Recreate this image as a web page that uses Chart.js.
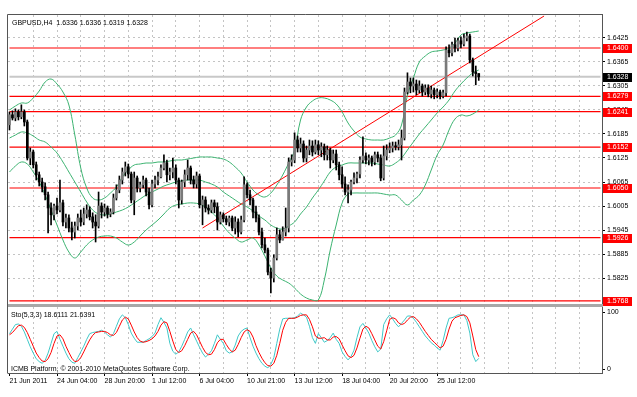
<!DOCTYPE html>
<html><head><meta charset="utf-8">
<script src="https://cdn.jsdelivr.net/npm/chart.js@4.4.0/dist/chart.umd.min.js"></script>
<style>
html,body{margin:0;padding:0;background:#fff;width:637px;height:397px;overflow:hidden;}
#wrap{position:relative;width:637px;height:397px;background:#fff;}
canvas{position:absolute;left:0;}
#c1{top:0;}
#c2{top:307px;}
.t{position:absolute;font-family:"Liberation Sans",Arial,sans-serif;font-size:7px;color:#000;white-space:pre;line-height:9px;}
</style></head><body>
<div id="wrap">
<canvas id="c1" width="637" height="307"></canvas>
<canvas id="c2" width="637" height="90"></canvas>
<div class="t" style="left:12px;top:18px;">GBPUSD,H4  1.6336 1.6336 1.6319 1.6328</div>
<div class="t" style="left:11px;top:310px;">Sto(5,3,3) 18.6111 21.6391</div>
<div class="t" style="left:11px;top:364px;">ICMB Platform, © 2001-2010 MetaQuotes Software Corp.</div>
</div>
<script>
// ---------- DATA ----------
const barCount = 200;
const dateTickBars = [0,16,32,48,64,80,96,112,128,144];
const dateTickLabels = ['21 Jun 2011','24 Jun 04:00','28 Jun 20:00','1 Jul 12:00','6 Jul 04:00','10 Jul 21:00','13 Jul 12:00','18 Jul 04:00','20 Jul 20:00','25 Jul 12:00'];
const priceTicks = [1.5825,1.5885,1.5945,1.6005,1.6065,1.6125,1.6185,1.6245,1.6305,1.6365,1.6425];
const stochTicks = [0,100];
const levels = [1.6400,1.6279,1.6241,1.6152,1.6050,1.5926,1.5768];
const currentPrice = 1.6328;
const trendBars = [65,180];
const trendValues = [1.5950,1.6480];

const opens = [
1.6208,1.6233,1.6225,1.6240,1.6228,1.6240,1.6215,1.6125,1.6140,1.6108,
1.6083,1.6065,1.6053,1.6033,1.6000,1.5983,1.6005,1.5995,1.6013,1.5965,
1.5975,1.5950,1.5940,1.5955,1.5975,1.5965,1.5985,1.5995,1.5978,1.5965,
1.5955,1.6005,1.5990,1.6000,1.5985,1.5990,1.6025,1.6045,1.6070,1.6090,
1.6103,1.6085,1.6020,1.6075,1.6050,1.6058,1.6070,1.6040,1.6008,1.6060,
1.6070,1.6078,1.6100,1.6113,1.6083,1.6090,1.6100,1.6070,1.6020,1.6065,
1.6083,1.6100,1.6070,1.6060,1.6080,1.6008,1.6020,1.6000,1.5995,1.6013,
1.6003,1.5965,1.5983,1.5973,1.5965,1.5975,1.5950,1.5965,1.5940,1.5970,
1.6058,1.6033,1.6020,1.5990,1.5975,1.5940,1.5908,1.5895,1.5840,1.5825,
1.5875,1.5933,1.5920,1.5940,1.5950,1.6115,1.6120,1.6170,1.6150,1.6160,
1.6125,1.6145,1.6155,1.6140,1.6158,1.6145,1.6153,1.6133,1.6145,1.6120,
1.6135,1.6108,1.6083,1.6060,1.6040,1.6045,1.6065,1.6075,1.6085,1.6120,
1.6130,1.6120,1.6125,1.6115,1.6133,1.6125,1.6075,1.6130,1.6145,1.6150,
1.6155,1.6153,1.6158,1.6175,1.6290,1.6315,1.6305,1.6310,1.6295,1.6305,
1.6290,1.6300,1.6285,1.6295,1.6283,1.6290,1.6280,1.6288,1.6395,1.6388,
1.6408,1.6400,1.6418,1.6410,1.6425,1.6430,1.6370,1.6340,1.6336];
const highs = [
1.6240,1.6243,1.6248,1.6245,1.6258,1.6245,1.6220,1.6150,1.6145,1.6115,
1.6090,1.6075,1.6063,1.6040,1.6013,1.6010,1.6025,1.6070,1.6020,1.5985,
1.5983,1.5965,1.5965,1.5985,1.5995,1.6000,1.6008,1.6003,1.5988,1.5983,
1.6040,1.6013,1.6010,1.6005,1.5998,1.6035,1.6058,1.6080,1.6100,1.6115,
1.6110,1.6090,1.6090,1.6080,1.6065,1.6080,1.6075,1.6050,1.6070,1.6080,
1.6090,1.6108,1.6133,1.6120,1.6100,1.6125,1.6108,1.6075,1.6070,1.6095,
1.6120,1.6105,1.6080,1.6090,1.6085,1.6030,1.6028,1.6008,1.6020,1.6020,
1.6013,1.5990,1.5988,1.5980,1.5980,1.5980,1.5978,1.5973,1.5980,1.6078,
1.6063,1.6045,1.6025,1.6005,1.5983,1.5950,1.5925,1.5900,1.5850,1.5883,
1.5950,1.5945,1.5953,1.6000,1.6125,1.6133,1.6188,1.6180,1.6175,1.6168,
1.6155,1.6170,1.6168,1.6170,1.6168,1.6163,1.6160,1.6155,1.6150,1.6145,
1.6145,1.6115,1.6103,1.6078,1.6058,1.6070,1.6088,1.6090,1.6128,1.6178,
1.6138,1.6133,1.6130,1.6140,1.6140,1.6133,1.6155,1.6158,1.6163,1.6165,
1.6165,1.6170,1.6195,1.6300,1.6338,1.6325,1.6325,1.6320,1.6318,1.6310,
1.6308,1.6308,1.6305,1.6300,1.6298,1.6295,1.6295,1.6403,1.6408,1.6415,
1.6425,1.6425,1.6428,1.6435,1.6440,1.6435,1.6375,1.6355,1.6336];
const lows = [
1.6195,1.6220,1.6218,1.6220,1.6223,1.6205,1.6120,1.6108,1.6100,1.6070,
1.6055,1.6040,1.6020,1.5938,1.5958,1.5970,1.5985,1.5990,1.5955,1.5950,
1.5940,1.5920,1.5925,1.5945,1.5955,1.5958,1.5975,1.5970,1.5950,1.5915,
1.5950,1.5975,1.5980,1.5975,1.5978,1.5985,1.6020,1.6038,1.6060,1.6080,
1.6075,1.6013,1.5983,1.6040,1.6040,1.6050,1.6030,1.5998,1.6003,1.6050,
1.6058,1.6075,1.6095,1.6065,1.6070,1.6075,1.6060,1.6000,1.6010,1.6053,
1.6070,1.6060,1.6050,1.6050,1.6000,1.5958,1.5990,1.5985,1.5988,1.5988,
1.5945,1.5960,1.5965,1.5958,1.5955,1.5943,1.5935,1.5928,1.5935,1.5965,
1.6025,1.6008,1.5975,1.5965,1.5933,1.5900,1.5888,1.5833,1.5788,1.5815,
1.5870,1.5913,1.5920,1.5930,1.5940,1.6105,1.6113,1.6140,1.6140,1.6115,
1.6115,1.6133,1.6130,1.6135,1.6133,1.6128,1.6120,1.6120,1.6100,1.6113,
1.6095,1.6070,1.6050,1.6033,1.6013,1.6033,1.6060,1.6063,1.6075,1.6113,
1.6110,1.6108,1.6105,1.6108,1.6115,1.6068,1.6070,1.6120,1.6138,1.6140,
1.6145,1.6145,1.6120,1.6170,1.6285,1.6288,1.6290,1.6283,1.6288,1.6280,
1.6283,1.6278,1.6275,1.6273,1.6275,1.6273,1.6275,1.6280,1.6378,1.6380,
1.6390,1.6393,1.6400,1.6405,1.6418,1.6363,1.6330,1.6308,1.6319];
const closes = [
1.6233,1.6225,1.6240,1.6228,1.6240,1.6215,1.6125,1.6140,1.6108,1.6083,
1.6065,1.6053,1.6033,1.6000,1.5983,1.6005,1.5995,1.6013,1.5965,1.5975,
1.5950,1.5940,1.5955,1.5975,1.5965,1.5985,1.5995,1.5978,1.5965,1.5955,
1.6005,1.5990,1.6000,1.5985,1.5990,1.6025,1.6045,1.6070,1.6090,1.6103,
1.6085,1.6020,1.6075,1.6050,1.6058,1.6070,1.6040,1.6008,1.6060,1.6070,
1.6078,1.6100,1.6113,1.6083,1.6090,1.6100,1.6070,1.6020,1.6065,1.6083,
1.6100,1.6070,1.6060,1.6080,1.6008,1.6020,1.6000,1.5995,1.6013,1.6003,
1.5965,1.5983,1.5973,1.5965,1.5975,1.5950,1.5965,1.5940,1.5970,1.6058,
1.6033,1.6020,1.5990,1.5975,1.5940,1.5908,1.5895,1.5840,1.5825,1.5875,
1.5933,1.5920,1.5940,1.5950,1.6115,1.6120,1.6170,1.6150,1.6160,1.6125,
1.6145,1.6155,1.6140,1.6158,1.6145,1.6153,1.6133,1.6145,1.6120,1.6135,
1.6108,1.6083,1.6060,1.6040,1.6045,1.6065,1.6075,1.6085,1.6120,1.6130,
1.6120,1.6125,1.6115,1.6133,1.6125,1.6075,1.6130,1.6145,1.6150,1.6155,
1.6153,1.6158,1.6175,1.6290,1.6315,1.6305,1.6310,1.6295,1.6305,1.6290,
1.6300,1.6285,1.6295,1.6283,1.6290,1.6280,1.6288,1.6395,1.6388,1.6408,
1.6400,1.6418,1.6410,1.6425,1.6430,1.6370,1.6340,1.6336,1.6328];

// Bollinger band values read at every second bar (bars 0,2,4,...,158)
const bandStep = 2;
const upperBand = [
1.6245,1.6255,1.62625,1.62625,1.6275,1.62925,1.6315,1.63225,1.631,1.629,
1.62575,1.61825,1.61,1.605,1.6025,1.602,1.6025,1.60375,1.60525,1.60775,
1.6095,1.61075,1.611,1.61125,1.61125,1.6115,1.6115,1.61175,1.612,1.612,
1.61225,1.6125,1.61275,1.61275,1.61275,1.6125,1.61225,1.6115,1.61025,1.60875,
1.6065,1.6045,1.60325,1.60275,1.60375,1.60575,1.60825,1.61125,1.6145,1.622,
1.62525,1.62675,1.6275,1.6275,1.627,1.626,1.624,1.62125,1.61925,1.61775,
1.61725,1.617,1.617,1.617,1.6175,1.61825,1.62075,1.62825,1.6325,1.6365,
1.638,1.639,1.63925,1.6395,1.64,1.64125,1.64325,1.64375,1.644,1.64425];
const middleBand = [
1.6175,1.61825,1.619,1.61875,1.618,1.617,1.6165,1.61525,1.61375,1.6115,
1.609,1.6065,1.604,1.6015,1.5995,1.5985,1.59825,1.5985,1.599,1.5995,
1.60025,1.60125,1.60225,1.60325,1.604,1.60475,1.6055,1.606,1.6065,1.60675,
1.607,1.607,1.607,1.6065,1.606,1.60525,1.604,1.603,1.602,1.601,
1.60025,1.59925,1.598,1.597,1.59575,1.595,1.59475,1.5955,1.5965,1.5985,
1.60025,1.6025,1.6045,1.60675,1.609,1.61025,1.61075,1.61125,1.61125,1.61125,
1.61125,1.61125,1.611,1.61075,1.6105,1.61125,1.6125,1.6145,1.6165,1.6185,
1.62025,1.622,1.62375,1.62525,1.627,1.62925,1.631,1.6325,1.63375,1.6345];
const lowerBand = [
1.609,1.6105,1.6115,1.611,1.609,1.6065,1.60325,1.5995,1.59575,1.592,
1.589,1.5875,1.589,1.59075,1.592,1.59275,1.593,1.593,1.5925,1.5915,
1.59075,1.5915,1.593,1.5945,1.59575,1.597,1.5985,1.6,1.60075,1.601,
1.60125,1.60125,1.601,1.60025,1.599,1.5975,1.5955,1.59375,1.5925,1.5915,
1.592,1.5925,1.59075,1.588,1.585,1.583,1.582,1.58125,1.58,1.5785,
1.5775,1.577,1.577,1.582,1.5895,1.59575,1.60125,1.6035,1.60375,1.60375,
1.60375,1.60375,1.60375,1.6035,1.60325,1.60325,1.602,1.60075,1.602,1.60325,
1.60575,1.6095,1.61325,1.61575,1.6195,1.62225,1.62325,1.623,1.6235,1.6245];

const stochMain = [
62,70,78,79,75,65,52,39,28,18,
13,10,15,28,45,62,66,52,40,28,
18,12,10,20,30,40,52,62,64,65,
66,68,65,60,56,62,75,88,95,90,
78,63,54,47,47,47,50,53,57,63,
78,90,82,72,45,31,26,30,40,52,
65,72,60,49,38,28,21,26,32,45,
60,52,45,32,28,30,42,58,66,70,
72,55,40,28,18,10,5,2,8,20,
45,70,88,89,89,89,90,93,98,95,
91,75,55,45,62,55,47,50,55,63,
52,45,30,22,16,22,33,55,74,80,
72,63,50,39,30,35,78,88,95,88,
80,74,80,86,93,93,89,82,74,66,
58,52,46,42,37,33,50,72,89,90,
92,95,95,95,85,63,25,13,18.6111];
const stochSignal = [
60,64,70,76,77,73,64,52,40,28,
20,14,13,18,29,45,58,60,53,40,
29,19,13,14,20,30,41,51,59,64,
65,66,66,64,60,59,64,75,86,91,
88,77,65,55,49,47,48,50,53,58,
66,77,83,81,66,49,34,29,32,41,
52,63,66,60,49,38,29,25,26,34,
46,52,52,43,35,30,33,43,55,65,
69,66,56,41,29,19,11,6,5,10,
24,45,68,82,89,89,89,91,94,95,
95,87,74,58,54,54,55,51,51,56,
57,53,42,32,23,20,24,37,54,70,
75,72,62,51,40,35,48,67,87,90,
88,81,78,80,86,91,92,88,82,74,
66,59,52,47,42,37,40,52,70,84,
90,92,94,95,92,81,58,34,21.6391];

// ---------- BUILD ----------
const FONT = {family:'"Liberation Sans", Arial, sans-serif', size:7};
const labels = new Array(barCount).fill('');
dateTickBars.forEach((b,k)=>{ labels[b] = dateTickLabels[k]; });
function pad(arr){ const out = new Array(barCount).fill(null); arr.forEach((v,i)=>{ out[i]=v; }); return out; }
function padStep(arr, step){ const out = new Array(barCount).fill(null); arr.forEach((v,k)=>{ out[k*step]=v; }); return out; }
const wickData = pad(lows.map((l,i)=>[l, highs[i]]));
const bodyData = pad(opens.map((o,i)=>[o, closes[i]]));
const trendData = new Array(barCount).fill(null);
trendBars.forEach((b,k)=>{ trendData[b] = trendValues[k]; });
const gridColorX = ctx => (ctx.index % 8 === 0 && ctx.index > 0) ? '#c4c4c4' : 'rgba(0,0,0,0)';
const noPad = s => { s.paddingTop = 0; s.paddingBottom = 0; s.paddingLeft = 0; s.paddingRight = 0; };

const lineBase = {type:'line', pointRadius:0, borderWidth:1, fill:false};

const frameTop = {
  id:'frameTop',
  afterDraw(chart){
    const a = chart.chartArea, ctx = chart.ctx;
    ctx.save();
    ctx.fillStyle = '#a8a8a8';
    ctx.fillRect(a.left, a.bottom, a.right - a.left + 1, 3);
    ctx.strokeStyle = '#555'; ctx.lineWidth = 1;
    ctx.beginPath();
    ctx.moveTo(a.left - 0.5, a.bottom + 3); ctx.lineTo(a.left - 0.5, a.top - 0.5); ctx.lineTo(a.right + 1, a.top - 0.5);
    ctx.stroke();
    const y = chart.scales.y;
    ctx.font = '7px "Liberation Sans", Arial, sans-serif';
    ctx.textBaseline = 'middle'; ctx.textAlign = 'left';
    const tag = (v, bg) => {
      const py = Math.round(y.getPixelForValue(v));
      ctx.fillStyle = bg; ctx.fillRect(y.left + 1, py - 4, 29, 9);
      ctx.fillStyle = '#fff'; ctx.fillText(v.toFixed(4), y.left + 5, py + 0.5);
    };
    levels.forEach(v => tag(v, '#ff0000'));
    tag(currentPrice, '#000');
    ctx.restore();
  }
};
const frameBottom = {
  id:'frameBottom',
  afterDraw(chart){
    const a = chart.chartArea, ctx = chart.ctx;
    ctx.save();
    ctx.strokeStyle = '#555'; ctx.lineWidth = 1;
    ctx.beginPath();
    ctx.moveTo(a.left - 0.5, a.top); ctx.lineTo(a.left - 0.5, a.bottom + 0.5);
    ctx.stroke();
    ctx.restore();
  }
};

const datasetsTop = [
  {type:'bar', data: bodyData, barThickness:2, grouped:false, minBarLength:1, borderWidth:0,
   backgroundColor: ctx => (closes[ctx.dataIndex] >= opens[ctx.dataIndex]) ? '#7a7a7a' : '#000', order:0},
  {type:'bar', data: wickData, barThickness:1, grouped:false, borderWidth:0, backgroundColor:'#000', order:1},
  Object.assign({}, lineBase, {data: trendData, spanGaps:true, borderColor:'#ff0000', order:2}),
  Object.assign({}, lineBase, {data: padStep(upperBand, bandStep), spanGaps:true, tension:0.4, borderColor:'#3cb371', order:3}),
  Object.assign({}, lineBase, {data: padStep(middleBand, bandStep), spanGaps:true, tension:0.4, borderColor:'#3cb371', order:3}),
  Object.assign({}, lineBase, {data: padStep(lowerBand, bandStep), spanGaps:true, tension:0.4, borderColor:'#3cb371', order:3}),
  Object.assign({}, lineBase, {data: new Array(barCount).fill(currentPrice), borderColor:'#c8c8c8', borderWidth:2, order:6})
].concat(levels.map(v => Object.assign({}, lineBase, {data: new Array(barCount).fill(v), borderColor:'#ff0000', borderWidth:1.2, order:5})));

new Chart(document.getElementById('c1'), {
  type:'bar',
  data:{labels, datasets: datasetsTop},
  options:{
    responsive:false, animation:false, devicePixelRatio:1,
    layout:{padding:{left:8, top:15, right:0, bottom:3}},
    plugins:{legend:{display:false}, tooltip:{enabled:false}},
    scales:{
      x:{offset:true, grid:{offset:false, color:gridColorX, drawTicks:false}, border:{display:false, dash:[2,3]},
         ticks:{display:false, autoSkip:false, maxRotation:0, minRotation:0},
         afterFit: s => { s.height = 0; noPad(s); }},
      y:{position:'right', min:1.5760, max:1.64825,
         afterBuildTicks: s => { s.ticks = priceTicks.map(v => ({value:v})); },
         ticks:{callback: v => Number(v).toFixed(4), font:FONT, color:'#000', padding:2, autoSkip:false},
         grid:{color:'#c4c4c4', tickColor:'#000', tickLength:3},
         border:{display:true, color:'#555', dash:[2,3]},
         afterFit: s => { s.width = 35; noPad(s); }}
    }
  },
  plugins:[frameTop]
});

new Chart(document.getElementById('c2'), {
  type:'line',
  data:{labels, datasets:[
    Object.assign({}, lineBase, {data: pad(stochSignal), borderColor:'#ff0000', order:1}),
    Object.assign({}, lineBase, {data: pad(stochMain), borderColor:'#40c8c8', order:2})
  ]},
  options:{
    responsive:false, animation:false, devicePixelRatio:1,
    layout:{padding:{left:8, top:0, right:0, bottom:0}},
    plugins:{legend:{display:false}, tooltip:{enabled:false}},
    scales:{
      x:{offset:true, grid:{offset:false, color:gridColorX, tickColor: ctx => dateTickBars.includes(ctx.index) ? '#000' : 'rgba(0,0,0,0)', tickLength:3},
         border:{display:true, color:'#555', dash:[2,3]},
         ticks:{autoSkip:false, maxRotation:0, minRotation:0, align:'start', font:FONT, color:'#000', padding:1},
         afterFit: s => { s.height = 24; noPad(s); }},
      y:{position:'right', min:-7, max:108.8,
         afterBuildTicks: s => { s.ticks = stochTicks.map(v => ({value:v})); },
         ticks:{font:FONT, color:'#000', padding:2},
         grid:{drawOnChartArea:false, tickColor:'#000', tickLength:3},
         border:{display:true, color:'#555'},
         afterFit: s => { s.width = 35; noPad(s); }}
    }
  },
  plugins:[frameBottom]
});
</script>
</body></html>
